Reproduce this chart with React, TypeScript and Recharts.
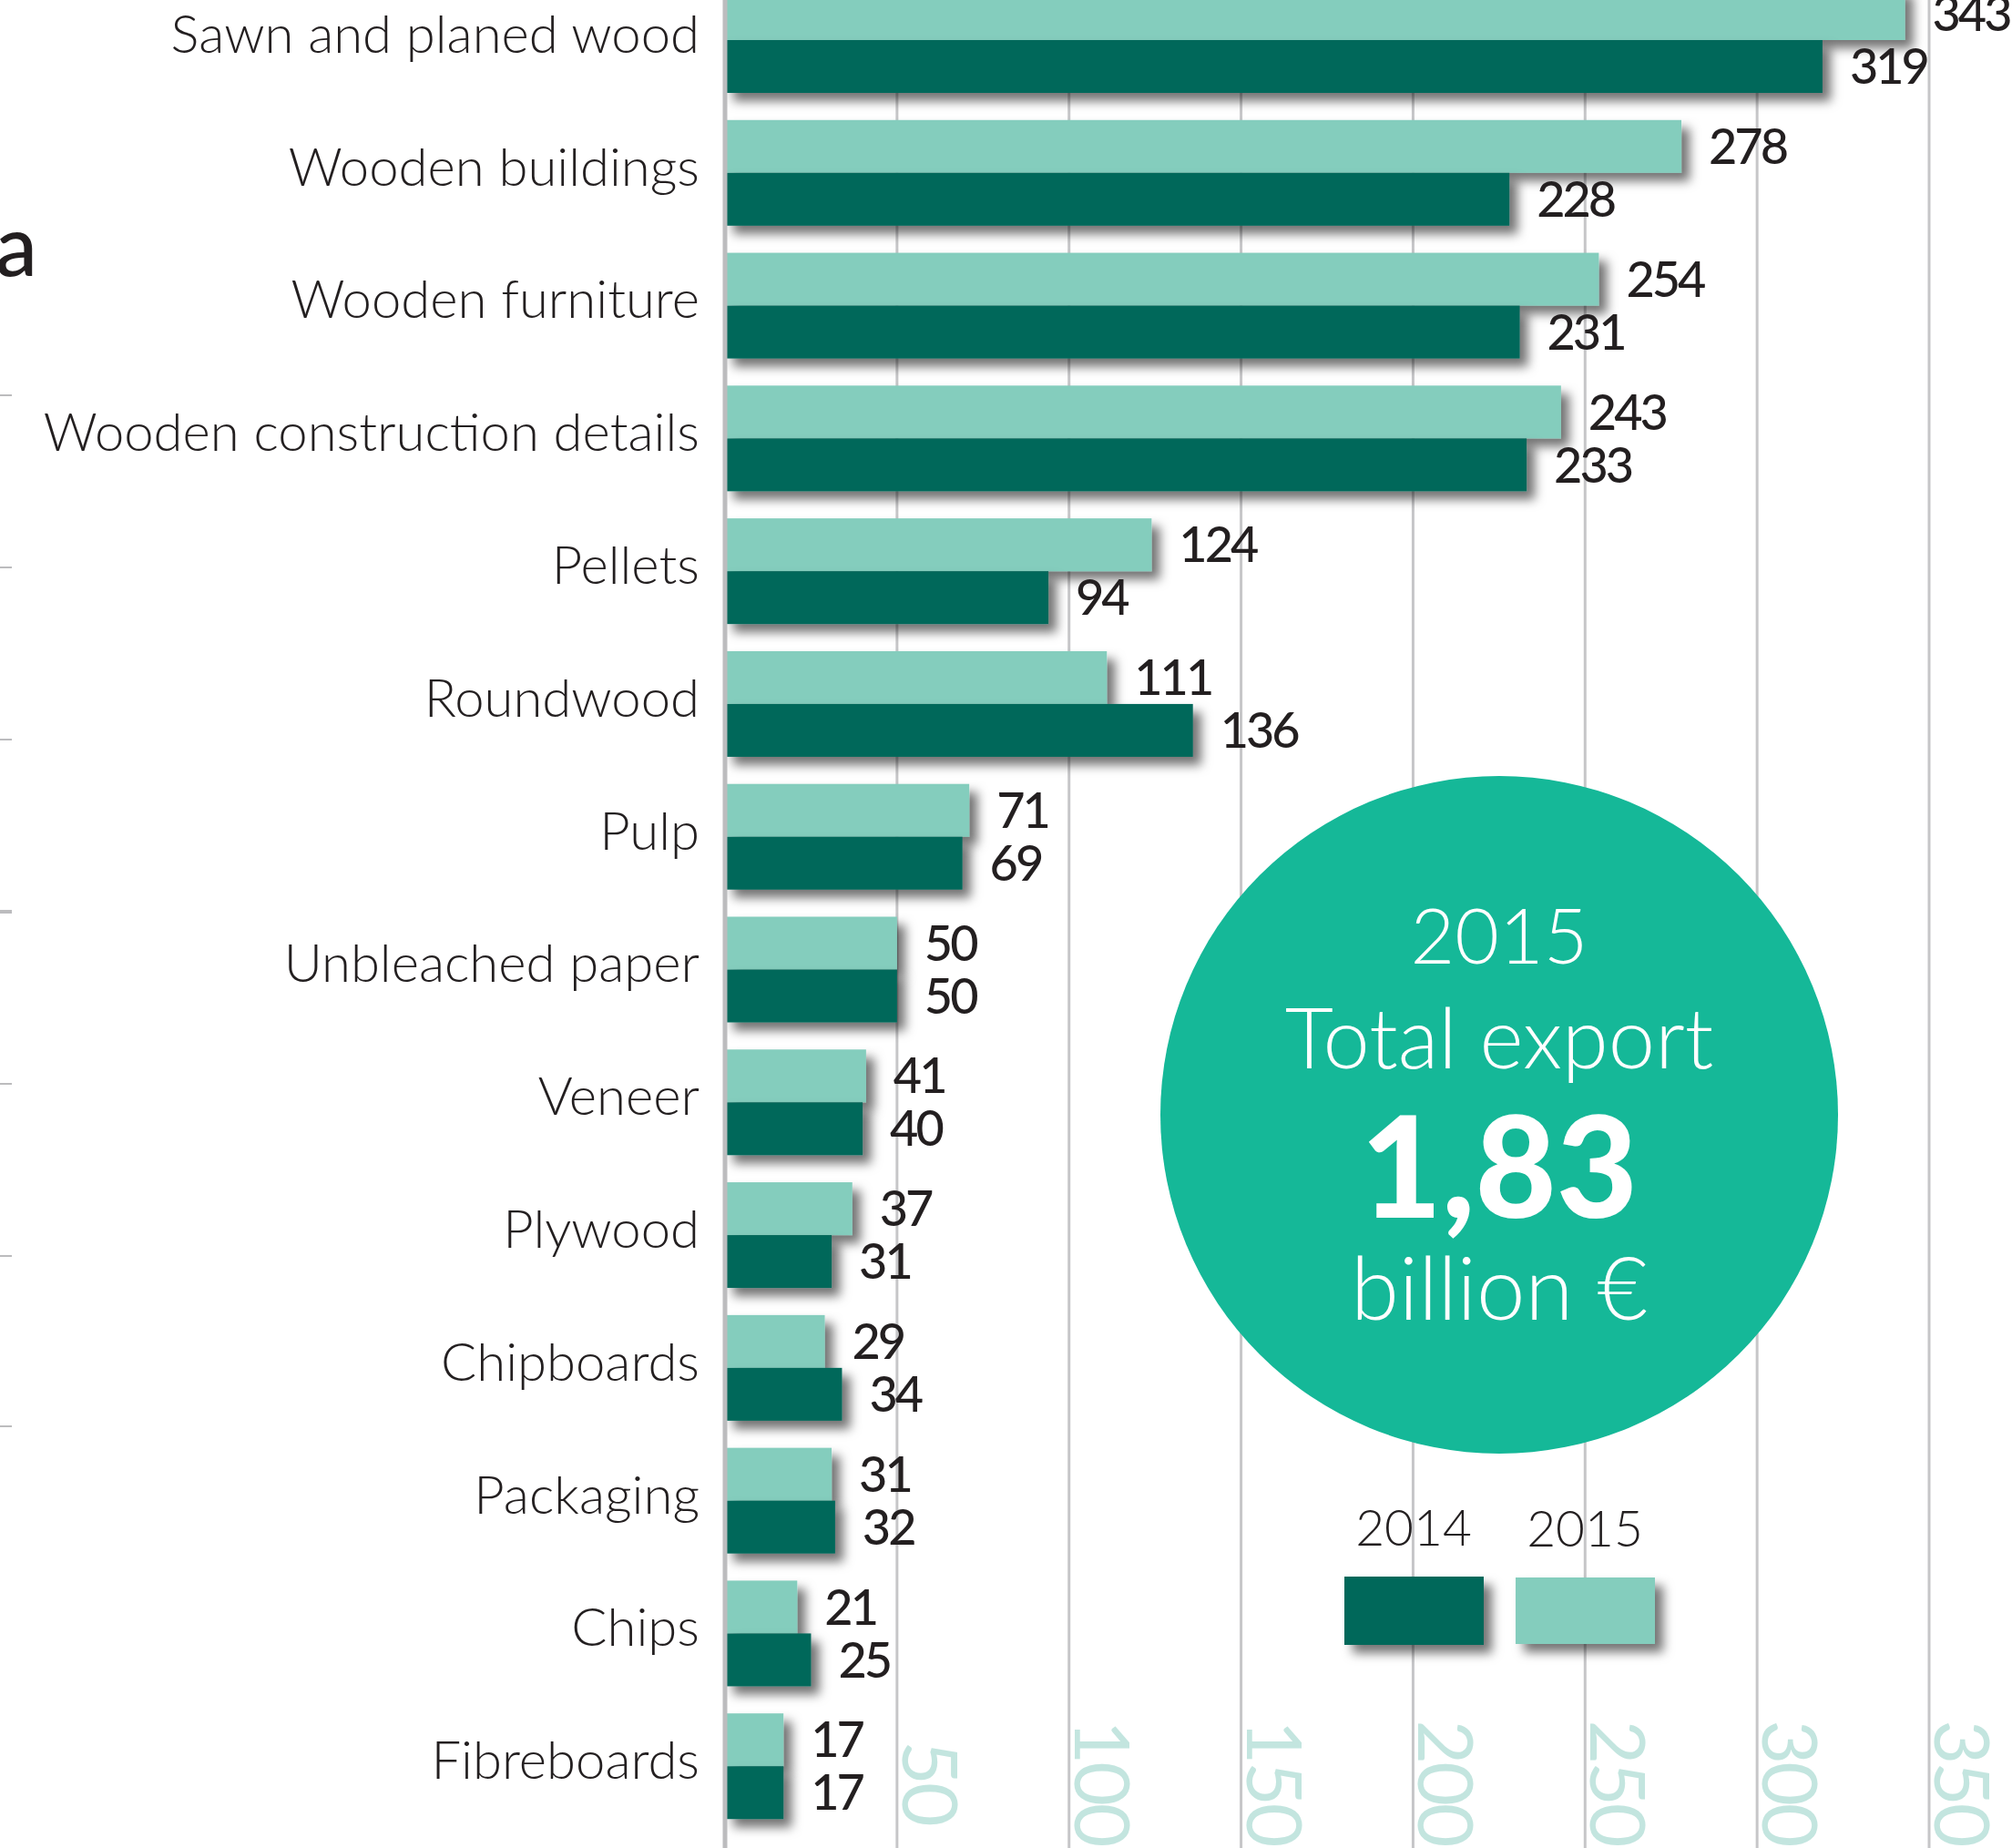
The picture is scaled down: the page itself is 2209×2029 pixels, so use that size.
import React from "react";
import { BarChart, Bar, XAxis, YAxis, CartesianGrid, LabelList } from "recharts";

const categories = [
  "Sawn and planed wood",
  "Wooden buildings",
  "Wooden furniture",
  "Wooden construction details",
  "Pellets",
  "Roundwood",
  "Pulp",
  "Unbleached paper",
  "Veneer",
  "Plywood",
  "Chipboards",
  "Packaging",
  "Chips",
  "Fibreboards",
];
const exports2015 = [343, 278, 254, 243, 124, 111, 71, 50, 41, 37, 29, 31, 21, 17];
const exports2014 = [319, 228, 231, 233, 94, 136, 69, 50, 40, 31, 34, 32, 25, 17];
const xTicks = [0, 50, 100, 150, 200, 250, 300, 350];
const legendYears = ["2014", "2015"];
const totalYear = "2015";
const totalValue = "1,83";

const rows = categories.map((name, i) => ({
  name,
  y2015: exports2015[i],
  y2014: exports2014[i],
}));

const DARK = "#00685a";
const LIGHT = "#84cdbd";
const CIRCLE = "#15b898";
const TEXT = "#231f20";
const GRID = "#c6c6c8";
const AXIS_NUM = "#c3e5df";
const FONT = "Lato, 'Open Sans', sans-serif";

const ShadowRect = (props: any) => (
  <rect
    x={props.x}
    y={props.y}
    width={props.width}
    height={props.height}
    fill={props.fill}
    filter="url(#barShadow)"
  />
);

// value axis numbers sit at the bottom, turned a quarter to the right
const AxisTick = ({ x, y, payload }: any) => {
  if (payload.value === 0) return null;
  return (
    <text
      transform={`translate(${x + 6}, ${y - 85}) rotate(90)`}
      textAnchor="middle"
      fill={AXIS_NUM}
      fontSize={84}
      fontFamily={FONT}
      fontWeight={400}
      letterSpacing={-3}
    >
      {payload.value}
    </text>
  );
};

const CategoryTick = ({ x, y, payload }: any) => (
  <text
    x={x}
    y={y}
    dy={14}
    textAnchor="end"
    fill={TEXT}
    fontSize={58}
    fontFamily={FONT}
    fontWeight={300}
  >
    {payload.value}
  </text>
);

const labelStyle = {
  fill: TEXT,
  fontSize: 54,
  fontFamily: FONT,
  fontWeight: 500,
  letterSpacing: -3,
};

export default function App() {
  return (
    <div
      style={{
        position: "absolute",
        left: 0,
        top: 0,
        width: 2209,
        height: 2029,
        overflow: "hidden",
        background: "#fff",
      }}
    >
      <div style={{ position: "absolute", left: 0, top: -60 }}>
        <BarChart
          width={2209}
          height={2103}
          data={rows}
          layout="vertical"
          margin={{ top: 0, right: 91, bottom: 0, left: 0 }}
          barSize={58}
          barGap={0}
        >
          <defs>
            <filter
              id="barShadow"
              filterUnits="userSpaceOnUse"
              x="-200"
              y="-200"
              width="2800"
              height="2600"
            >
              <feDropShadow dx="9" dy="9" stdDeviation="6" floodColor="#000" floodOpacity="0.55" />
            </filter>
          </defs>
          <CartesianGrid horizontal={false} stroke={GRID} strokeWidth={3} />
          <XAxis
            type="number"
            domain={[0, 350]}
            ticks={xTicks}
            axisLine={false}
            tickLine={false}
            tickSize={0}
            tickMargin={0}
            height={1}
            tick={<AxisTick />}
          />
          <YAxis
            type="category"
            dataKey="name"
            width={796}
            padding={{ top: 31, bottom: 30 }}
            axisLine={{ stroke: "#bcbcbe", strokeWidth: 5 }}
            tickLine={false}
            tickSize={0}
            tickMargin={28}
            interval={0}
            tick={<CategoryTick />}
          />
          <Bar
            dataKey="y2015"
            fill={LIGHT}
            isAnimationActive={false}
            shape={(p: any) => <ShadowRect {...p} fill={LIGHT} />}
          >
            <LabelList dataKey="y2015" position="right" offset={30} {...labelStyle} />
          </Bar>
          <Bar
            dataKey="y2014"
            fill={DARK}
            isAnimationActive={false}
            shape={(p: any) => <ShadowRect {...p} fill={DARK} />}
          >
            <LabelList dataKey="y2014" position="right" offset={30} {...labelStyle} />
          </Bar>
        </BarChart>
      </div>

      {/* decorations: cut-off title letter, neighbour ticks, total circle, legend */}
      <svg
        width={2209}
        height={2029}
        style={{ position: "absolute", left: 0, top: 0, pointerEvents: "none" }}
      >
        <defs>
          <filter id="boxShadow" x="-20%" y="-30%" width="150%" height="180%">
            <feDropShadow dx="9" dy="9" stdDeviation="6" floodColor="#000" floodOpacity="0.55" />
          </filter>
        </defs>
        <text x={-5} y={303} fontSize={92} fontFamily={FONT} fontWeight={500} fill={TEXT}>
          a
        </text>
        {[434, 623, 812, 1001, 1190, 1379, 1566].map((y, i) => (
          <line
            key={y}
            x1={0}
            x2={13}
            y1={y}
            y2={y}
            stroke="#bcbcbe"
            strokeWidth={i === 3 ? 4 : 2}
          />
        ))}

        <circle cx={1646} cy={1224} r={372} fill={CIRCLE} />
        <g fill="#fff" fontFamily={FONT} textAnchor="middle">
          <text x={1646} y={1058} fontSize={84} fontWeight={300}>
            {totalYear}
          </text>
          <text x={1646} y={1173} fontSize={92} fontWeight={300}>
            Total export
          </text>
          <text x={1646} y={1337} fontSize={154} fontWeight={900}>
            {totalValue}
          </text>
          <text x={1646} y={1449} fontSize={96} fontWeight={300}>
            billion €
          </text>
        </g>

        <g fontFamily={FONT} fontWeight={300} fill={TEXT} fontSize={55} textAnchor="middle">
          <text x={1552} y={1697}>
            {legendYears[0]}
          </text>
          <text x={1740} y={1698}>
            {legendYears[1]}
          </text>
        </g>
        <rect x={1476} y={1731} width={153} height={75} fill={DARK} filter="url(#boxShadow)" />
        <rect x={1664} y={1732} width={153} height={73} fill={LIGHT} filter="url(#boxShadow)" />
      </svg>
    </div>
  );
}
